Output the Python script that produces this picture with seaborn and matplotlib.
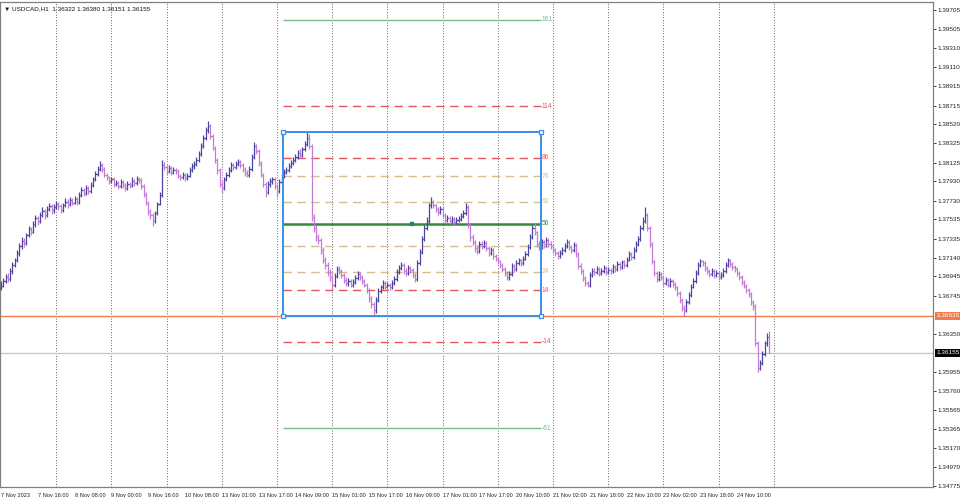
import matplotlib
matplotlib.use("Agg")
import matplotlib.pyplot as plt
from matplotlib.patches import Rectangle
from matplotlib.transforms import blended_transform_factory
import pandas as pd
import seaborn as sns

# ---- data (USDCAD H1) ----
chart_title = "\u25bc USDCAD,H1  1.36322 1.36380 1.36151 1.36155"
first_open = 1.3682

close = [
    1.3685, 1.3690, 1.3694, 1.3692, 1.3700, 1.3706, 1.3712, 1.3719, 1.3726, 1.3731,
    1.3729, 1.3737, 1.3744, 1.3741, 1.3749, 1.3755, 1.3752, 1.3758, 1.3762, 1.3758,
    1.3764, 1.3767, 1.3763, 1.3766, 1.3770, 1.3767, 1.3763, 1.3768, 1.3772, 1.3769,
    1.3774, 1.3771, 1.3775, 1.3772, 1.3779, 1.3784, 1.3781, 1.3786, 1.3783, 1.3789,
    1.3795, 1.3801, 1.3806, 1.3810, 1.3806, 1.3800, 1.3797, 1.3793, 1.3795, 1.3790,
    1.3791, 1.3788, 1.3792, 1.3789, 1.3786, 1.3790, 1.3789, 1.3793, 1.3791, 1.3795,
    1.3794, 1.3788, 1.3780, 1.3771, 1.3762, 1.3758, 1.3752, 1.3760, 1.3770, 1.3779,
    1.3810, 1.3808, 1.3804, 1.3807, 1.3803, 1.3805, 1.3804, 1.3799, 1.3797, 1.3800,
    1.3796, 1.3799, 1.3805, 1.3809, 1.3811, 1.3815, 1.3821, 1.3830, 1.3838, 1.3846,
    1.3850, 1.3840, 1.3828, 1.3815, 1.3805, 1.3790, 1.3786, 1.3795, 1.3800, 1.3805,
    1.3810, 1.3808, 1.3811, 1.3813, 1.3810, 1.3806, 1.3802, 1.3800, 1.3806, 1.3818,
    1.3830, 1.3824, 1.3812, 1.3800, 1.3790, 1.3782, 1.3790, 1.3793, 1.3795, 1.3788,
    1.3783, 1.3792, 1.3798, 1.3803, 1.3805, 1.3809, 1.3812, 1.3815, 1.3818, 1.3822,
    1.3820, 1.3826, 1.3832, 1.3838, 1.3830, 1.3756, 1.3745, 1.3735, 1.3732, 1.3722,
    1.3712, 1.3706, 1.3699, 1.3694, 1.3686, 1.3695, 1.3702, 1.3700, 1.3696, 1.3691,
    1.3688, 1.3690, 1.3686, 1.3689, 1.3693, 1.3697, 1.3694, 1.3690, 1.3686, 1.3680,
    1.3672, 1.3666, 1.3660, 1.3670, 1.3679, 1.3683, 1.3688, 1.3684, 1.3686, 1.3683,
    1.3688, 1.3692, 1.3699, 1.3703, 1.3706, 1.3700, 1.3698, 1.3703, 1.3701, 1.3696,
    1.3692, 1.3708, 1.3720, 1.3733, 1.3745, 1.3752, 1.3768, 1.3772, 1.3768, 1.3764,
    1.3761, 1.3764, 1.3758, 1.3753, 1.3755, 1.3752, 1.3754, 1.3751, 1.3753, 1.3754,
    1.3757, 1.3760, 1.3766, 1.3748, 1.3735, 1.3730, 1.3724, 1.3721, 1.3728, 1.3726,
    1.3729, 1.3724, 1.3719, 1.3722, 1.3716, 1.3713, 1.3710, 1.3706, 1.3702, 1.3698,
    1.3694, 1.3697, 1.3705, 1.3702, 1.3708, 1.3711, 1.3708, 1.3713, 1.3718, 1.3725,
    1.3735, 1.3745, 1.3740, 1.3728, 1.3725, 1.3730, 1.3727, 1.3732, 1.3728, 1.3726,
    1.3722, 1.3719, 1.3716, 1.3719, 1.3722, 1.3726, 1.3730, 1.3725, 1.3722, 1.3727,
    1.3718, 1.3705, 1.3700, 1.3693, 1.3688, 1.3686, 1.3696, 1.3700, 1.3699, 1.3702,
    1.3698, 1.3700, 1.3703, 1.3699, 1.3701, 1.3700, 1.3704, 1.3702, 1.3707, 1.3704,
    1.3709, 1.3706, 1.3712, 1.3718, 1.3715, 1.3722, 1.3728, 1.3733, 1.3745, 1.3752,
    1.3758, 1.3745, 1.3728, 1.3710, 1.3698, 1.3692, 1.3697, 1.3694, 1.3688, 1.3691,
    1.3686, 1.3690, 1.3687, 1.3683, 1.3677, 1.3670, 1.3662, 1.3660, 1.3668, 1.3675,
    1.3684, 1.3690, 1.3698, 1.3706, 1.3710, 1.3708, 1.3703, 1.3700, 1.3697, 1.3700,
    1.3696, 1.3698, 1.3694, 1.3696, 1.3700, 1.3706, 1.3711, 1.3707, 1.3704, 1.3702,
    1.3698, 1.3694, 1.3689, 1.3685, 1.3680, 1.3676, 1.3668, 1.3664, 1.3626, 1.3600,
    1.3605, 1.3614, 1.3625, 1.3632, 1.36155,
]

high = [
    1.3690, 1.3693, 1.3697, 1.3698, 1.3703, 1.3709, 1.3714, 1.3722, 1.3729, 1.3735,
    1.3734, 1.3739, 1.3747, 1.3746, 1.3752, 1.3758, 1.3757, 1.3761, 1.3766, 1.3764,
    1.3767, 1.3771, 1.3769, 1.3769, 1.3773, 1.3772, 1.3769, 1.3771, 1.3776, 1.3775,
    1.3777, 1.3776, 1.3778, 1.3777, 1.3782, 1.3787, 1.3786, 1.3789, 1.3788, 1.3792,
    1.3798, 1.3804, 1.3809, 1.3814, 1.3812, 1.3808, 1.3802, 1.3799, 1.3798, 1.3797,
    1.3794, 1.3793, 1.3795, 1.3794, 1.3791, 1.3793, 1.3792, 1.3797, 1.3795, 1.3799,
    1.3798, 1.3796, 1.3790, 1.3782, 1.3773, 1.3764, 1.3760, 1.3762, 1.3772, 1.3782,
    1.3815, 1.3813, 1.3810, 1.3810, 1.3809, 1.3808, 1.3807, 1.3806, 1.3801, 1.3803,
    1.3802, 1.3802, 1.3808, 1.3812, 1.3814, 1.3818, 1.3824, 1.3833, 1.3841, 1.3849,
    1.3855, 1.3852, 1.3842, 1.3830, 1.3817, 1.3807, 1.3793, 1.3798, 1.3803, 1.3808,
    1.3813, 1.3812, 1.3814, 1.3816, 1.3815, 1.3812, 1.3808, 1.3805, 1.3809, 1.3821,
    1.3834, 1.3832, 1.3826, 1.3814, 1.3802, 1.3792, 1.3793, 1.3796, 1.3798, 1.3797,
    1.3790, 1.3795, 1.3801, 1.3806, 1.3808, 1.3812, 1.3815, 1.3818, 1.3821, 1.3825,
    1.3826, 1.3829, 1.3835, 1.3844, 1.3842, 1.3832, 1.3759, 1.3748, 1.3738, 1.3734,
    1.3725, 1.3715, 1.3709, 1.3702, 1.3697, 1.3698, 1.3705, 1.3705, 1.3702, 1.3698,
    1.3694, 1.3693, 1.3692, 1.3692, 1.3696, 1.3700, 1.3699, 1.3696, 1.3692, 1.3688,
    1.3682, 1.3674, 1.3668, 1.3673, 1.3682, 1.3686, 1.3691, 1.3690, 1.3689, 1.3688,
    1.3691, 1.3695, 1.3702, 1.3706, 1.3709, 1.3708, 1.3703, 1.3706, 1.3705, 1.3703,
    1.3698, 1.3711, 1.3723, 1.3736, 1.3748, 1.3756, 1.3771, 1.3777, 1.3774, 1.3770,
    1.3766, 1.3767, 1.3766, 1.3760, 1.3758, 1.3757, 1.3757, 1.3756, 1.3756, 1.3757,
    1.3760, 1.3763, 1.3771, 1.3768, 1.3750, 1.3738, 1.3732, 1.3727, 1.3731, 1.3731,
    1.3732, 1.3731, 1.3726, 1.3725, 1.3724, 1.3718, 1.3715, 1.3712, 1.3708, 1.3704,
    1.3700, 1.3700, 1.3708, 1.3707, 1.3711, 1.3714, 1.3713, 1.3716, 1.3721, 1.3728,
    1.3738, 1.3748, 1.3750, 1.3742, 1.3731, 1.3733, 1.3732, 1.3735, 1.3734, 1.3731,
    1.3728, 1.3724, 1.3721, 1.3722, 1.3725, 1.3729, 1.3733, 1.3732, 1.3727, 1.3730,
    1.3729, 1.3720, 1.3708, 1.3702, 1.3695, 1.3690, 1.3699, 1.3703, 1.3703, 1.3705,
    1.3704, 1.3703, 1.3706, 1.3705, 1.3704, 1.3703, 1.3707, 1.3706, 1.3710, 1.3709,
    1.3712, 1.3711, 1.3715, 1.3721, 1.3720, 1.3725, 1.3731, 1.3736, 1.3748, 1.3756,
    1.3766, 1.3760, 1.3747, 1.3730, 1.3712, 1.3700, 1.3700, 1.3699, 1.3696, 1.3694,
    1.3693, 1.3693, 1.3692, 1.3689, 1.3685, 1.3679, 1.3672, 1.3665, 1.3671, 1.3678,
    1.3687, 1.3693, 1.3701, 1.3709, 1.3713, 1.3712, 1.3710, 1.3705, 1.3702, 1.3703,
    1.3702, 1.3701, 1.3700, 1.3699, 1.3703, 1.3709, 1.3714, 1.3713, 1.3709, 1.3706,
    1.3704, 1.3700, 1.3696, 1.3691, 1.3687, 1.3682, 1.3678, 1.3670, 1.3666, 1.3628,
    1.3608, 1.3617, 1.3628, 1.3636, 1.3638,
]

low = [
    1.3680, 1.3683, 1.3688, 1.3689, 1.3690, 1.3697, 1.3704, 1.3709, 1.3716, 1.3723,
    1.3725, 1.3727, 1.3735, 1.3737, 1.3739, 1.3746, 1.3748, 1.3750, 1.3756, 1.3754,
    1.3756, 1.3762, 1.3759, 1.3760, 1.3764, 1.3763, 1.3760, 1.3761, 1.3766, 1.3765,
    1.3767, 1.3768, 1.3769, 1.3768, 1.3770, 1.3777, 1.3778, 1.3779, 1.3780, 1.3781,
    1.3787, 1.3793, 1.3799, 1.3804, 1.3803, 1.3797, 1.3794, 1.3790, 1.3791, 1.3787,
    1.3788, 1.3785, 1.3786, 1.3786, 1.3783, 1.3784, 1.3786, 1.3787, 1.3788, 1.3789,
    1.3791, 1.3785, 1.3777, 1.3768, 1.3758, 1.3754, 1.3747, 1.3750, 1.3758, 1.3768,
    1.3777, 1.3805, 1.3801, 1.3802, 1.3800, 1.3801, 1.3801, 1.3796, 1.3794, 1.3795,
    1.3793, 1.3794, 1.3797, 1.3803, 1.3806, 1.3809, 1.3813, 1.3819, 1.3828, 1.3836,
    1.3843, 1.3837, 1.3825, 1.3812, 1.3801, 1.3787, 1.3781, 1.3784, 1.3793, 1.3798,
    1.3803, 1.3805, 1.3806, 1.3809, 1.3807, 1.3803, 1.3799, 1.3797, 1.3798, 1.3804,
    1.3816, 1.3821, 1.3809, 1.3797, 1.3787, 1.3777, 1.3780, 1.3787, 1.3790, 1.3785,
    1.3777, 1.3781, 1.3790, 1.3796, 1.3801, 1.3803, 1.3807, 1.3810, 1.3813, 1.3816,
    1.3817, 1.3818, 1.3824, 1.3830, 1.3827, 1.3752, 1.3741, 1.3731, 1.3728, 1.3718,
    1.3708, 1.3702, 1.3695, 1.3690, 1.3681, 1.3684, 1.3693, 1.3697, 1.3693, 1.3688,
    1.3685, 1.3685, 1.3683, 1.3684, 1.3687, 1.3691, 1.3691, 1.3687, 1.3683, 1.3677,
    1.3668, 1.3662, 1.3654, 1.3657, 1.3668, 1.3677, 1.3681, 1.3681, 1.3682, 1.3680,
    1.3681, 1.3686, 1.3690, 1.3697, 1.3701, 1.3697, 1.3695, 1.3696, 1.3698, 1.3693,
    1.3689, 1.3690, 1.3706, 1.3718, 1.3731, 1.3743, 1.3750, 1.3765, 1.3765, 1.3761,
    1.3758, 1.3759, 1.3755, 1.3750, 1.3751, 1.3749, 1.3750, 1.3748, 1.3749, 1.3751,
    1.3752, 1.3755, 1.3758, 1.3745, 1.3731, 1.3727, 1.3720, 1.3718, 1.3719, 1.3723,
    1.3724, 1.3721, 1.3716, 1.3717, 1.3713, 1.3710, 1.3707, 1.3703, 1.3699, 1.3695,
    1.3691, 1.3691, 1.3695, 1.3699, 1.3700, 1.3706, 1.3705, 1.3706, 1.3711, 1.3716,
    1.3723, 1.3733, 1.3737, 1.3725, 1.3722, 1.3723, 1.3724, 1.3725, 1.3725, 1.3723,
    1.3719, 1.3716, 1.3713, 1.3714, 1.3717, 1.3720, 1.3724, 1.3722, 1.3719, 1.3720,
    1.3715, 1.3702, 1.3697, 1.3690, 1.3685, 1.3683, 1.3684, 1.3694, 1.3696, 1.3697,
    1.3695, 1.3696, 1.3698, 1.3696, 1.3697, 1.3697, 1.3698, 1.3699, 1.3700, 1.3701,
    1.3702, 1.3703, 1.3704, 1.3710, 1.3712, 1.3713, 1.3720, 1.3726, 1.3731, 1.3743,
    1.3750, 1.3742, 1.3725, 1.3707, 1.3695, 1.3689, 1.3690, 1.3691, 1.3685, 1.3686,
    1.3683, 1.3684, 1.3684, 1.3680, 1.3674, 1.3667, 1.3659, 1.3653, 1.3658, 1.3666,
    1.3673, 1.3682, 1.3688, 1.3696, 1.3704, 1.3705, 1.3700, 1.3697, 1.3694, 1.3695,
    1.3693, 1.3694, 1.3691, 1.3692, 1.3694, 1.3698, 1.3704, 1.3704, 1.3701, 1.3699,
    1.3695, 1.3691, 1.3686, 1.3682, 1.3677, 1.3673, 1.3665, 1.3660, 1.3622, 1.3595,
    1.3598, 1.3603, 1.3612, 1.3622, 1.36151,
]

time_labels = [
    "7 Nov 2023", "7 Nov 16:00", "8 Nov 08:00", "9 Nov 00:00", "9 Nov 16:00",
    "10 Nov 08:00", "13 Nov 01:00", "13 Nov 17:00", "14 Nov 09:00", "15 Nov 01:00",
    "15 Nov 17:00", "16 Nov 09:00", "17 Nov 01:00", "17 Nov 17:00", "20 Nov 10:00",
    "21 Nov 02:00", "21 Nov 18:00", "22 Nov 10:00", "23 Nov 02:00", "23 Nov 18:00",
    "24 Nov 10:00",
]
label_every = 16
grid_every = 24

price_ticks = [
    1.39705, 1.39505, 1.39310, 1.39110, 1.38915, 1.38715, 1.38520, 1.38325,
    1.38125, 1.37930, 1.37730, 1.37535, 1.37335, 1.37140, 1.36945, 1.36745,
    1.36350, 1.35955, 1.35760, 1.35565, 1.35365, 1.35170, 1.34970, 1.34775,
]

fib_high = 1.38441
fib_low = 1.36535
fib_from_bar = 122.6
fib_to_bar = 234.8
fib_levels = [161, 114, 86, 76, 62, 50, 38, 24, 14, -14, -61]
bid_price = 1.36155

# ---- styles ----
dash = (0, (6, 4))
level_style = {
    161: ("#7dbb8c", "-", 1.0), -61: ("#7dbb8c", "-", 1.0),
    114: ("#e8545c", dash, 1.0), 86: ("#e8545c", dash, 1.0),
    14: ("#e8545c", dash, 1.0), -14: ("#e8545c", dash, 1.0),
    76: ("#d6bd8c", dash, 1.0), 62: ("#d6bd8c", dash, 1.0),
    38: ("#d6bd8c", dash, 1.0), 24: ("#d6bd8c", dash, 1.0),
    50: ("#2f8a3a", "-", 1.8),
}
up_color = "#4a46a0"
down_color = "#c47ad6"

sns.set_style("white")
plt.rcParams["font.family"] = ["Liberation Sans", "DejaVu Sans"]

bars = pd.DataFrame({"high": high, "low": low, "close": close})
bars["open"] = bars["close"].shift(1).fillna(first_open)
bars["bar"] = range(len(bars))
bars["color"] = [up_color if c >= o else down_color
                 for o, c in zip(bars["open"], bars["close"])]

fig = plt.figure(figsize=(9.6, 5.0), dpi=100)
ax = fig.add_axes([0.0, 13 / 500, 933 / 960, 485 / 500])

# vertical dotted grid
grid_bars = list(range(grid_every, len(bars) + 2, grid_every))
ax.vlines(grid_bars, 0, 1, transform=blended_transform_factory(ax.transData, ax.transAxes),
          colors="#333333", linestyles=(0, (1, 2.2)), linewidth=0.6, zorder=1)

# horizontal lines: fib base / bid
ax.axhline(fib_low, color="#f37a4e", lw=1.0, zorder=2)
ax.axhline(bid_price, color="#c4c4c4", lw=0.9, zorder=2)

# OHLC bars
ax.vlines(bars["bar"], bars["low"], bars["high"], colors=bars["color"], lw=0.9, zorder=4)
ax.hlines(bars["open"], bars["bar"] - 0.55, bars["bar"], colors=bars["color"], lw=0.9, zorder=4)
ax.hlines(bars["close"], bars["bar"], bars["bar"] + 0.55, colors=bars["color"], lw=0.9, zorder=4)

# fibonacci box and levels
span = fib_high - fib_low
ax.add_patch(Rectangle((fib_from_bar, fib_low), fib_to_bar - fib_from_bar, span,
                       fill=False, ec="#3b8fe8", lw=1.4, zorder=5))
for lev in fib_levels:
    col, ls, lw = level_style[lev]
    y = fib_low + lev / 100 * span
    ax.hlines(y, fib_from_bar, fib_to_bar, colors=col, linestyles=ls, lw=lw, zorder=3)
    ax.text(fib_to_bar + 0.4, y, str(lev), color=col, fontsize=4.8,
            ha="left", va="center", zorder=6)

corners = pd.DataFrame({"x": [fib_from_bar, fib_to_bar, fib_from_bar, fib_to_bar],
                        "y": [fib_high, fib_high, fib_low, fib_low]})
sns.scatterplot(data=corners, x="x", y="y", marker="s", s=7, color="white",
                edgecolor="#3b8fe8", linewidth=0.9, ax=ax, zorder=7, legend=False)
mid = pd.DataFrame({"x": [(fib_from_bar + fib_to_bar) / 2], "y": [fib_low + 0.5 * span]})
sns.scatterplot(data=mid, x="x", y="y", marker="s", s=6, color="#2f7f6a",
                edgecolor="#2f7f6a", ax=ax, zorder=7, legend=False)

# axes
ax.set_xlim(-0.43, 405.2)
ax.set_ylim(1.34763, 1.39788)
ax.set_xlabel("")
ax.set_ylabel("")
ax.yaxis.tick_right()
ax.set_yticks(price_ticks)
ax.set_yticklabels([f"{p:.5f}" for p in price_ticks])
ax.set_xticks([i * label_every for i in range(len(time_labels))])
ax.set_xticklabels(time_labels, ha="left")
ax.tick_params(axis="y", labelsize=4.6, length=2, width=0.6, pad=1.5, colors="#222222")
ax.tick_params(axis="x", labelsize=4.1, length=3, width=0.6, pad=1.0, colors="#222222")
for s in ax.spines.values():
    s.set_color("#808080")
    s.set_linewidth(0.9)

trans = blended_transform_factory(ax.transAxes, ax.transData)
ax.text(1.004, fib_low, f"{fib_low:.5f}", transform=trans, fontsize=4.6, color="white",
        ha="left", va="center",
        bbox=dict(boxstyle="square,pad=0.25", fc="#f37a4e", ec="none"), zorder=8, clip_on=False)
ax.text(1.004, bid_price, f"{bid_price:.5f}", transform=trans, fontsize=4.6, color="white",
        ha="left", va="center",
        bbox=dict(boxstyle="square,pad=0.25", fc="#000000", ec="none"), zorder=8, clip_on=False)

ax.text(0.004, 0.992, chart_title, transform=ax.transAxes, fontsize=4.6,
        ha="left", va="top", color="#111111", zorder=9)

fig.savefig("out.png", dpi=100, facecolor="white")
